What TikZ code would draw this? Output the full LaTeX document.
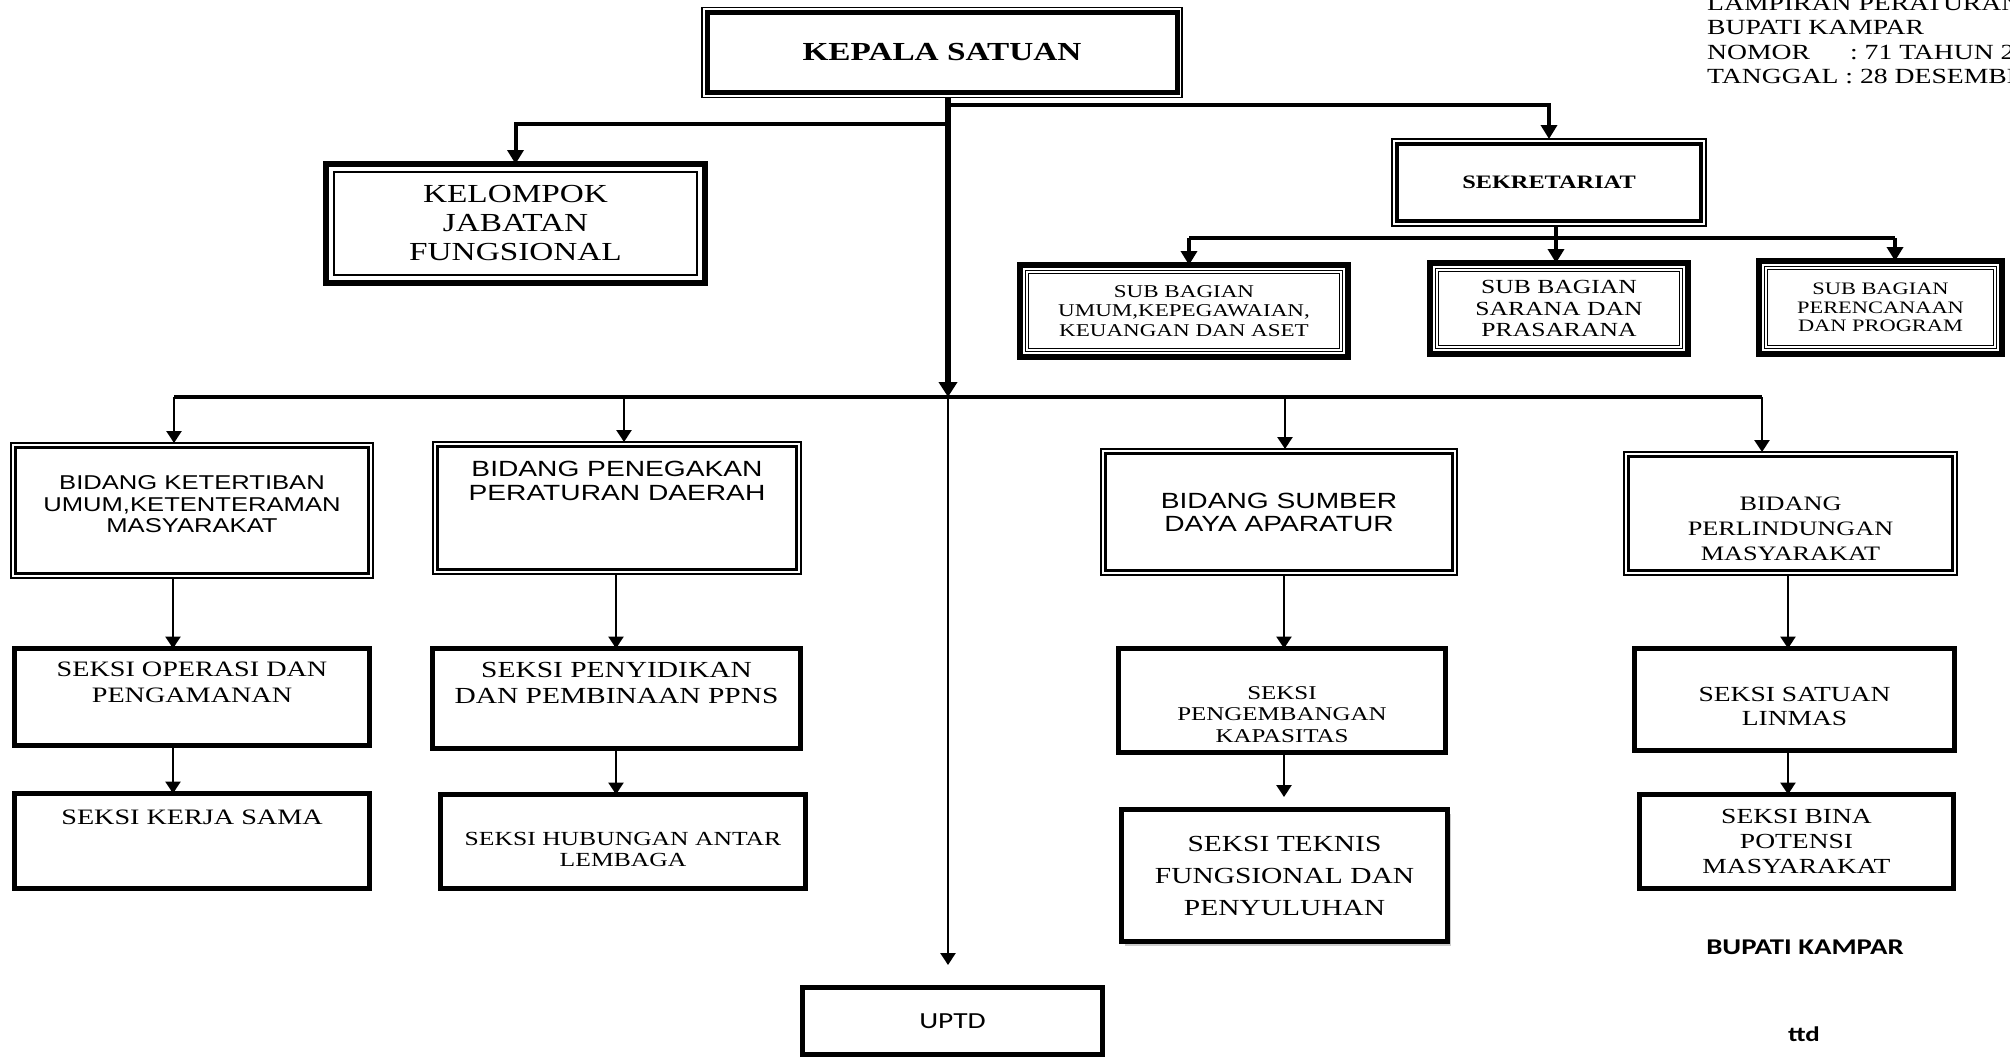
\documentclass[tikz,border=0pt]{standalone}
\usepackage{fontspec}
\setmainfont{Liberation Serif}[FakeStretch=1.28]
\setsansfont{Liberation Sans}[FakeStretch=1.28]
\newfontfamily\calibfont{Carlito}[FakeStretch=1.28]
\usetikzlibrary{arrows.meta,shadows}

\newcommand\setfs[2]{\fontsize{#1}{#2}\selectfont}
\newcommand\padtop[1]{\rule{0pt}{#1pt}}
\newcommand\padbot[1]{\rule[-#1pt]{0pt}{#1pt}}

\tikzset{
  unitbox/.style={draw, fill=white, inner sep=0pt, outer sep=0pt, align=center},
  thinbox/.style={unitbox, line width=1.5pt},
  thickbox/.style={unitbox, line width=6pt},
  bidang/.style={unitbox, line width=1.2pt},
  seksi/.style={unitbox, line width=5pt},
  wh/.style 2 args={minimum width=#1pt, minimum height=#2pt},
  feed/.style={line width=4pt},
  feedarrow/.style={line width=4pt, -{Triangle[length=14pt,width=16pt]}},
  link/.style={line width=2.5pt, -{Triangle[length=12pt,width=15pt]}},
}

\begin{document}
\begin{tikzpicture}[x=1pt, y=-1pt]
    \path[use as bounding box, fill=white] (0,0) rectangle (2010,1058);

    \node[anchor=north west, inner sep=0pt, align=left, font=\setfs{21.6}{24.5}] (lampiran) at (1707,-4.3)
        {LAMPIRAN PERATURAN\\ BUPATI KAMPAR\\ NOMOR\hspace{40pt}: 71 TAHUN 2\\ TANGGAL : 28 DESEMBER};

    \node[thinbox, wh={480}{90}, font=\bfseries\setfs{26}{30}] (kepala) at (942,52.5) {KEPALA SATUAN};
    \node[thickbox, wh={379}{119}, font=\setfs{26}{29}] (kelompok) at (515.5,223.5) {KELOMPOK\\ JABATAN\\ FUNGSIONAL};
    \node[thinbox, wh={314}{87}, font=\bfseries\setfs{19}{22}] (sekre) at (1549,182.5) {SEKRETARIAT};

    \node[thickbox, wh={328}{92}, font=\setfs{18}{19.5}] (umum) at (1184,311) {SUB BAGIAN\\ UMUM,KEPEGAWAIAN,\\ KEUANGAN DAN ASET};
    \node[thickbox, wh={258}{91}, font=\setfs{20}{21.5}] (sarana) at (1559,308.5) {SUB BAGIAN\\ SARANA DAN\\ PRASARANA};
    \node[thickbox, wh={243}{93}, font=\setfs{17.5}{18.5}] (renc) at (1880.5,307.5) {SUB BAGIAN\\ PERENCANAAN\\ DAN PROGRAM};

    \node[bidang, wh={362}{135}, font=\sffamily\setfs{20}{21.5}] (b1) at (192,510.5) {BIDANG KETERTIBAN\\ UMUM,KETENTERAMAN\\ MASYARAKAT\padbot{12}};
    \node[bidang, wh={368}{132}, font=\sffamily\setfs{22}{24}] (b2) at (617,508) {BIDANG PENEGAKAN\\ PERATURAN DAERAH\padbot{54}};
    \node[bidang, wh={356}{126}, font=\sffamily\setfs{22}{23}] (b3) at (1279,512) {BIDANG SUMBER\\ DAYA APARATUR};
    \node[bidang, wh={333}{123}, font=\setfs{20.5}{25}] (b4) at (1790.5,513.5) {\padtop{44}BIDANG\\ PERLINDUNGAN\\ MASYARAKAT};

    \node[seksi, wh={355}{97}, font=\setfs{22}{26}] (s1a) at (192,697) {SEKSI OPERASI DAN\\ PENGAMANAN\padbot{30}};
    \node[seksi, wh={355}{95}, font=\setfs{22}{26}] (s1b) at (192,841) {SEKSI KERJA SAMA\padbot{48}};
    \node[seksi, wh={368}{100}, font=\setfs{23}{26}] (s2a) at (616.5,698.5) {SEKSI PENYIDIKAN\\ DAN PEMBINAAN PPNS\padbot{32}};
    \node[seksi, wh={365}{94}, font=\setfs{20}{21}] (s2b) at (623,841.5) {\padtop{29}SEKSI HUBUNGAN ANTAR\\ LEMBAGA};
    \node[seksi, wh={327}{104}, font=\setfs{19.5}{21.5}] (s3a) at (1282,700.5) {\padtop{41}SEKSI\\ PENGEMBANGAN\\ KAPASITAS};
    \node[seksi, wh={326}{132}, font=\setfs{23}{32}, drop shadow={shadow xshift=3pt, shadow yshift=-4pt, opacity=0.4}] (s3b) at (1284.5,875.5) {SEKSI TEKNIS\\ FUNGSIONAL DAN\\ PENYULUHAN};
    \node[seksi, wh={320}{102}, font=\setfs{21.5}{24}] (s4a) at (1794.5,699.5) {\padtop{28}SEKSI SATUAN\\ LINMAS};
    \node[seksi, wh={314}{94}, font=\setfs{21.5}{25}] (s4b) at (1796.5,841.5) {SEKSI BINA\\ POTENSI\\ MASYARAKAT};
    \node[seksi, wh={300}{67}, font=\calibfont\setfs{23}{26}] (uptd) at (952.5,1021) {UPTD};

    \node[font=\calibfont\bfseries\setfs{22.5}{24}] (bupati) at (1805,947) {BUPATI KAMPAR};
    \node[font=\calibfont\bfseries\setfs{21}{22}] (ttd) at (1804,1034) {ttd};

    \draw[line width=5pt] ([shift={(5,5)}]kepala.north west) rectangle ([shift={(-5,-5)}]kepala.south east);
    \draw[line width=1.5pt] ([shift={(8,8)}]kelompok.north west) rectangle ([shift={(-8,-8)}]kelompok.south east);
    \draw[line width=4pt] ([shift={(5,5)}]sekre.north west) rectangle ([shift={(-5,-5)}]sekre.south east);
    \foreach \n in {umum,sarana,renc}
        \draw[double, line width=1pt, double distance=1.5pt] ([shift={(7,7)}]\n.north west) rectangle ([shift={(-7,-7)}]\n.south east);
    \foreach \n in {b1,b2,b3,b4}
        \draw[line width=2.5pt] ([shift={(4.5,4.5)}]\n.north west) rectangle ([shift={(-4.5,-4.5)}]\n.south east);

    \coordinate (hub) at (948,397);
    \coordinate (jk) at (948,124);
    \coordinate (js) at (948,105);
    \coordinate (jsub) at (1556,238);
    \coordinate (jsubL) at (1189,238);
    \coordinate (jsubR) at (1895,238);
    \coordinate (jb1) at (174,397);
    \coordinate (jb2) at (624,397);
    \coordinate (jb3) at (1285,397);
    \coordinate (jb4) at (1762,397);
    \coordinate (c1) at (173,0);
    \coordinate (c2) at (616,0);
    \coordinate (c4) at (1788,0);
    \coordinate (t3) at (1284,797);
    \coordinate (tu) at (948,965);

    \draw[line width=5.5pt, -{Triangle[length=15pt,width=18pt]}] (kepala.south -| hub) -- (hub);
    \draw[feedarrow] (js) -| (sekre.north);
    \draw[feedarrow] (jk) -| (kelompok.north);
    \draw[feedarrow] (sekre.south -| jsub) -- (jsub |- sarana.north);
    \draw[feed] (jsubL) -- (jsubR);
    \draw[feedarrow] (jsubL) -- (jsubL |- umum.north);
    \draw[feedarrow] (jsubR) -- (jsubR |- renc.north);

    \draw[line width=4.5pt] (jb1) -- (jb4);
    \foreach \j/\b in {jb1/b1, jb2/b2, jb3/b3, jb4/b4}
        \draw[link] (\j) -- (\j |- \b.north);
    \draw[link] (hub) -- (tu);

    \draw[link] (c1 |- b1.south) -- (c1 |- s1a.north);
    \draw[link] (c1 |- s1a.south) -- (c1 |- s1b.north);
    \draw[link] (c2 |- b2.south) -- (c2 |- s2a.north);
    \draw[link] (c2 |- s2a.south) -- (c2 |- s2b.north);
    \draw[link] (t3 |- b3.south) -- (t3 |- s3a.north);
    \draw[link] (t3 |- s3a.south) -- (t3);
    \draw[link] (c4 |- b4.south) -- (c4 |- s4a.north);
    \draw[link] (c4 |- s4a.south) -- (c4 |- s4b.north);
\end{tikzpicture}
\end{document}
